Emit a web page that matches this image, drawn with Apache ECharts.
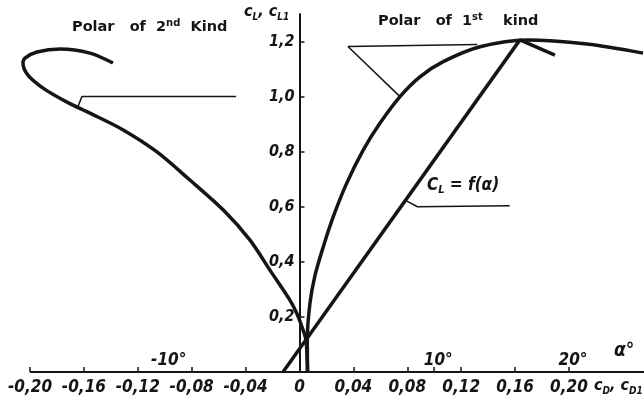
<!DOCTYPE html>
<html>
<head>
<meta charset="utf-8">
<script src="https://cdn.jsdelivr.net/npm/echarts@6/dist/echarts.min.js"></script>
<style>
  html, body { margin: 0; padding: 0; background: #fff; }
  #chart { width: 644px; height: 404px; }
</style>
</head>
<body>
<div id="chart"></div>
<script>
// tick values
const cdTicks = [-0.2, -0.16, -0.12, -0.08, -0.04, 0, 0.04, 0.08, 0.12, 0.16, 0.2];
const clTicks = [0.2, 0.4, 0.6, 0.8, 1.0, 1.2];
const alphaTicks = [-10, 10, 20];
const alphaTickMarks = [10, 20];

// polar of 1st kind  [cD, cL]
const polar1 = [
  [0.006, 0], [0.0058, 0.116], [0.0078, 0.25], [0.0115, 0.35], [0.0177, 0.455],
  [0.0251, 0.564], [0.035, 0.685], [0.0473, 0.806], [0.0597, 0.903], [0.0746, 1.0],
  [0.0894, 1.072], [0.1067, 1.127], [0.134, 1.181], [0.169, 1.206],
  [0.2133, 1.191], [0.255, 1.158]
];
// polar of 2nd kind  [cD1, cL1]
const polar2 = [
  [-0.1384, 1.122], [-0.1555, 1.158], [-0.1777, 1.173], [-0.1948, 1.162],
  [-0.2037, 1.14], [-0.2052, 1.122], [-0.2015, 1.078], [-0.1903, 1.031],
  [-0.1725, 0.98], [-0.1555, 0.94], [-0.1308, 0.879], [-0.106, 0.8],
  [-0.0813, 0.697], [-0.0565, 0.588], [-0.0367, 0.479], [-0.0219, 0.37],
  [-0.0071, 0.261], [-0.0021, 0.214], [0.0019, 0.163], [0.0048, 0.116], [0.006, 0]
];
// cL = f(alpha)  [alpha deg, cL]
const clAlpha = [[-1.22, 0], [16.36, 1.206], [18.96, 1.151]];

// leader lines of the labels
const lead2nd = [[-0.1645, 0.962], [-0.1615, 1.0], [-0.047, 1.0]];
const lead1st = [[0.0746, 1.0], [0.036, 1.182], [0.132, 1.189]];
const leadAlpha = [[0.078, 0.625], [0.0876, 0.6], [0.156, 0.604]];

// drawn c_D axis line
const xBase = [[-0.2, 0], [0.2557, 0]];

const ink = "#151515";
const numFont = "'DejaVu Sans Condensed', 'Liberation Sans Narrow', sans-serif";
const gridLeft = 16.5;

function comma(v, d) {
  if (v === 0) return "0";
  return v.toFixed(d).replace(".", ",");
}

function curve(data, axis, width, smooth) {
  return {
    type: "line",
    xAxisIndex: axis,
    data: data,
    smooth: smooth,
    showSymbol: false,
    clip: false,
    lineStyle: { color: ink, width: width },
  };
}

const titleRich = {
  a: { fontFamily: "DejaVu Sans", fontWeight: "bold", fontSize: 14.5, fill: ink, lineHeight: 18 },
  s: { fontFamily: "DejaVu Sans", fontWeight: "bold", fontSize: 10, fill: ink, verticalAlign: "top", lineHeight: 18 },
};
const subRich = {
  c: { fontFamily: numFont, fontStyle: "italic", fontWeight: "bold", fontSize: 16, fill: ink, lineHeight: 20 },
  b: { fontFamily: numFont, fontStyle: "italic", fontWeight: "bold", fontSize: 10, fill: ink, verticalAlign: "bottom", lineHeight: 20 },
};
const bigRich = {
  c: { fontFamily: numFont, fontStyle: "italic", fontWeight: "bold", fontSize: 17, fill: ink, lineHeight: 20 },
  b: { fontFamily: numFont, fontStyle: "italic", fontWeight: "bold", fontSize: 11, fill: ink, verticalAlign: "bottom", lineHeight: 20 },
};

const chart = echarts.init(document.getElementById("chart"));
chart.setOption({
  animation: false,
  backgroundColor: "#fff",
  grid: { left: gridLeft, right: 0, top: 14, bottom: 32, outerBoundsMode: "none" },
  xAxis: [
    {
      type: "value",
      min: -0.21,
      max: 0.2557,
      position: "bottom",
      axisLine: { show: false },
      axisTick: { show: true, inside: true, length: 5, customValues: cdTicks, lineStyle: { color: ink, width: 1.5 } },
      axisLabel: {
        customValues: cdTicks,
        margin: 7,
        color: ink,
        fontFamily: numFont,
        fontStyle: "italic",
        fontWeight: "bold",
        fontSize: 17,
        formatter: (v) => comma(v, 2),
      },
      splitLine: { show: false },
    },
    {
      // angle of attack scale, 1 deg = 0.01
      type: "value",
      min: -21,
      max: 25.57,
      position: "bottom",
      axisLine: { show: false },
      axisTick: { show: true, inside: true, length: 5, customValues: alphaTickMarks, lineStyle: { color: ink, width: 1.5 } },
      axisLabel: {
        inside: true,
        customValues: alphaTicks,
        margin: 3,
        padding: [0, 0, 0, 8],
        color: ink,
        fontFamily: numFont,
        fontStyle: "italic",
        fontWeight: "bold",
        fontSize: 17,
        formatter: (v) => v + "°",
      },
      splitLine: { show: false },
    },
  ],
  yAxis: {
    type: "value",
    min: 0,
    max: 1.3,
    position: "left",
    axisLine: { show: true, onZero: false, lineStyle: { color: ink, width: 2 } },
    axisTick: { show: true, inside: true, length: 5, customValues: clTicks, lineStyle: { color: ink, width: 1.5 } },
    axisLabel: {
      customValues: clTicks,
      margin: 5,
      color: ink,
      fontFamily: numFont,
      fontStyle: "italic",
      fontWeight: "bold",
      fontSize: 16,
      formatter: (v) => comma(v, 1),
    },
    splitLine: { show: false },
  },
  graphic: [
    {
      type: "text",
      left: 72,
      top: 18,
      style: { text: "{a|Polar   of  2}{s|nd}{a|  Kind}", rich: titleRich },
    },
    {
      type: "text",
      left: 378,
      top: 12,
      style: { text: "{a|Polar   of  1}{s|st}{a|    kind}", rich: titleRich },
    },
    {
      type: "text",
      left: 244,
      top: 4,
      style: { text: "{c|c}{b|L}{c|, c}{b|L1}", rich: subRich },
    },
    {
      type: "text",
      left: 427,
      top: 177,
      style: { text: "{c|C}{b|L}{c| = f(α)}", rich: bigRich },
    },
    {
      type: "text",
      left: 614,
      top: 342,
      style: {
        text: "α°",
        fontFamily: numFont,
        fontStyle: "italic",
        fontWeight: "bold",
        fontSize: 19,
        fill: ink,
      },
    },
    {
      type: "text",
      left: 594,
      top: 378,
      style: { text: "{c|c}{b|D}{c|, c}{b|D1}", rich: subRich },
    },
  ],
  series: [
    curve(xBase, 0, 2, false),
    curve(polar1, 0, 3.5, 0.3),
    curve(polar2, 0, 3.5, 0.3),
    curve(clAlpha, 1, 3.5, false),
    curve(lead2nd, 0, 1.5, false),
    curve(lead1st, 0, 1.5, false),
    curve(leadAlpha, 0, 1.5, false),
  ],
});

// move the cL axis onto cD = 0, labels included
const zeroX = chart.convertToPixel({ xAxisIndex: 0 }, 0);
chart.setOption({ yAxis: { offset: -(zeroX - gridLeft) } });
</script>
</body>
</html>
